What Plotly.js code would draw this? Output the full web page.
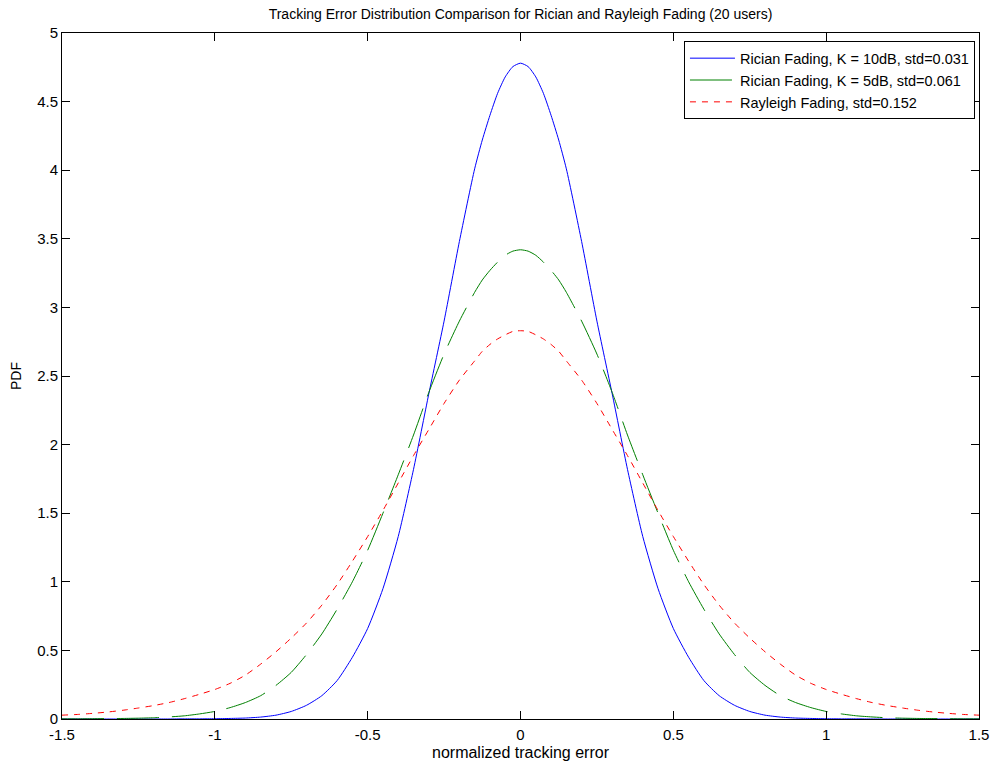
<!DOCTYPE html>
<html>
<head>
<meta charset="utf-8">
<script src="https://cdn.plot.ly/plotly-3.0.1.min.js"></script>
<style>html,body{margin:0;padding:0;background:#fff;}#chart{width:993px;height:764px;}</style>
</head>
<body>
<div id="chart"></div>
<script>
// normalized tracking error grid
const xErr = [-1.5,-1.45,-1.4,-1.35,-1.3,-1.25,-1.2,-1.15,-1.1,-1.05,-1.0,-0.95,-0.9,-0.85,-0.8,-0.75,-0.7,-0.65,-0.6,-0.55,-0.5,-0.45,-0.4,-0.35,-0.3,-0.25,-0.2,-0.15,-0.125,-0.1,-0.075,-0.05,-0.025,
  0,0.025,0.05,0.075,0.1,0.125,0.15,0.2,0.25,0.3,0.35,0.4,0.45,0.5,0.55,0.6,0.65,0.7,0.75,0.8,0.85,0.9,0.95,1.0,1.05,1.1,1.15,1.2,1.25,1.3,1.35,1.4,1.45,1.5];

// Rician Fading, K = 10dB
const ricianK10 = [0,0,0,0,0,0,0,0,0.001,0.001,0.002,0.004,0.007,0.014,0.028,0.055,0.10,0.17,0.28,0.45,0.66,0.95,1.33,1.82,2.37,2.90,3.48,4.01,4.22,4.40,4.56,4.68,4.755,
  4.78,4.755,4.68,4.56,4.40,4.22,4.01,3.48,2.90,2.37,1.82,1.33,0.95,0.66,0.45,0.28,0.17,0.10,0.055,0.028,0.014,0.007,0.004,0.002,0.001,0.001,0,0,0,0,0,0,0,0];

// Rician Fading, K = 5dB
const ricianK5 = [0.001,0.001,0.002,0.003,0.004,0.006,0.009,0.015,0.023,0.037,0.055,0.083,0.12,0.17,0.245,0.34,0.47,0.62,0.80,1.00,1.23,1.50,1.78,2.07,2.38,2.66,2.90,3.11,3.20,3.27,3.33,3.38,3.41,
  3.42,3.41,3.38,3.33,3.27,3.20,3.11,2.90,2.66,2.38,2.07,1.78,1.50,1.23,1.00,0.80,0.62,0.47,0.34,0.245,0.17,0.12,0.083,0.055,0.037,0.023,0.015,0.009,0.006,0.004,0.003,0.002,0.001,0.001];

// Rayleigh Fading
const rayleigh = [0.028,0.033,0.041,0.051,0.064,0.08,0.098,0.12,0.148,0.18,0.215,0.26,0.32,0.40,0.49,0.59,0.70,0.83,0.98,1.15,1.33,1.52,1.72,1.92,2.11,2.30,2.47,2.61,2.68,2.73,2.77,2.80,2.825,
  2.83,2.825,2.80,2.77,2.73,2.68,2.61,2.47,2.30,2.11,1.92,1.72,1.52,1.33,1.15,0.98,0.83,0.70,0.59,0.49,0.40,0.32,0.26,0.215,0.18,0.148,0.12,0.098,0.08,0.064,0.051,0.041,0.033,0.028];

const seriesNames = ["Rician Fading, K = 10dB, std=0.031","Rician Fading, K = 5dB, std=0.061","Rayleigh Fading, std=0.152"];
const xTickVals = [-1.5,-1,-0.5,0,0.5,1,1.5];
const xTickText = ["-1.5","-1","-0.5","0","0.5","1","1.5"];
const yTickVals = [0,0.5,1,1.5,2,2.5,3,3.5,4,4.5,5];
const yTickText = ["0","0.5","1","1.5","2","2.5","3","3.5","4","4.5","5"];

const FONT = "Arial, 'Liberation Sans', Helvetica, sans-serif";

const traces = [
  {x: xErr, y: ricianK10, name: seriesNames[0], type: 'scatter', mode: 'lines',
   line: {color: '#0000ff', width: 1, shape: 'spline', smoothing: 0.6}},
  {x: xErr, y: ricianK5, name: seriesNames[1], type: 'scatter', mode: 'lines',
   line: {color: '#008000', width: 1, shape: 'spline', smoothing: 0.6, dash: '42px,13px'}},
  {x: xErr, y: rayleigh, name: seriesNames[2], type: 'scatter', mode: 'lines',
   line: {color: '#ff0000', width: 1, shape: 'spline', smoothing: 0.6, dash: '6px,6px'}}
];

const layout = {
  width: 993, height: 764,
  margin: {l: 62, r: 14, t: 33, b: 45},
  paper_bgcolor: '#ffffff', plot_bgcolor: '#ffffff',
  font: {family: FONT, size: 14, color: '#000'},
  title: {text: 'Tracking Error Distribution Comparison for Rician and Rayleigh Fading (20 users)',
          font: {family: FONT, size: 14, color: '#000'}, x: 0.5, xanchor: 'center', y: 0.982, yanchor: 'middle', xref: 'paper'},
  showlegend: true,
  legend: {x: 0.9956, y: 0.988, xanchor: 'right', yanchor: 'top', bgcolor: '#ffffff',
           bordercolor: '#000', borderwidth: 1, font: {family: FONT, size: 14.5, color: '#000'},
           itemwidth: 45, tracegroupgap: 0},
  xaxis: {range: [-1.5, 1.5], tickmode: 'array', tickvals: xTickVals, ticktext: xTickText,
          ticks: 'inside', ticklen: 8, tickcolor: '#000', showline: true, linecolor: '#000', linewidth: 1,
          mirror: 'ticks', showgrid: false, zeroline: false, ticklabelstandoff: 2,
          tickfont: {family: FONT, size: 15, color: '#000'},
          title: {text: 'normalized tracking error', font: {family: FONT, size: 16, color: '#000'}, standoff: 4}},
  yaxis: {range: [0, 5], tickmode: 'array', tickvals: yTickVals, ticktext: yTickText,
          ticks: 'inside', ticklen: 8, tickcolor: '#000', showline: true, linecolor: '#000', linewidth: 1,
          mirror: 'ticks', showgrid: false, zeroline: false,
          tickfont: {family: FONT, size: 15, color: '#000'},
          title: {text: 'PDF', font: {family: FONT, size: 14, color: '#000'}, standoff: 12}}
};

Plotly.newPlot('chart', traces, layout, {displayModeBar: false, staticPlot: true});
</script>
</body>
</html>
